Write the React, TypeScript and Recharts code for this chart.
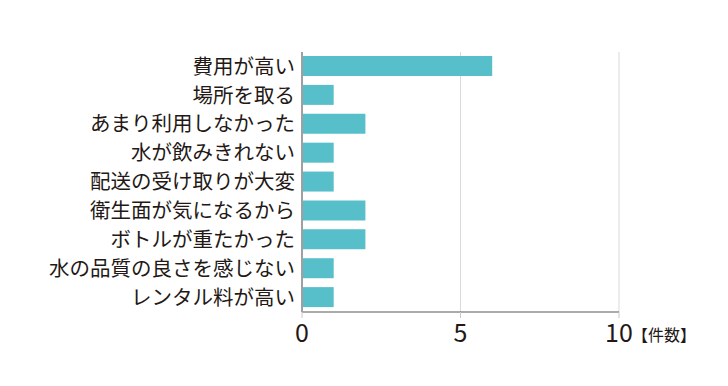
import { BarChart, Bar, XAxis, YAxis, CartesianGrid } from 'recharts';

const categories = [
  '費用が高い',
  '場所を取る',
  'あまり利用しなかった',
  '水が飲みきれない',
  '配送の受け取りが大変',
  '衛生面が気になるから',
  'ボトルが重たかった',
  '水の品質の良さを感じない',
  'レンタル料が高い',
];
const counts = [6, 1, 2, 1, 1, 2, 2, 1, 1];
const xTicks = [0, 5, 10];
const unitLabel = '【件数】';

const data = categories.map((name, i) => ({ name, count: counts[i] }));

const FONT = '"Noto Sans CJK JP", "Noto Sans", sans-serif';
const TEXT = '#231815';

// 最後の目盛り(10)の横に単位を付ける
function XTick(props: any) {
  const { x, y, payload } = props;
  const last = payload.value === xTicks[xTicks.length - 1];
  return (
    <g>
      <text x={x} y={y} dy={22} textAnchor="middle" fill={TEXT} fontSize={25} fontFamily={FONT}>
        {payload.value}
      </text>
      {last && (
        <text x={x + 13} y={y} dy={21} textAnchor="start" fill={TEXT} fontSize={16} fontFamily={FONT}>
          {unitLabel}
        </text>
      )}
    </g>
  );
}

export default function App() {
  return (
    <div style={{ position: 'absolute', left: 0, top: 0, width: 728, height: 386, background: '#fff' }}>
      <BarChart
        width={728}
        height={386}
        data={data}
        layout="vertical"
        margin={{ top: 52, right: 109, left: 0, bottom: 34 }}
        barSize={20}
      >
        <CartesianGrid horizontal={false} stroke="#d9d9d9" strokeWidth={1} />
        <XAxis
          type="number"
          domain={[0, 10]}
          ticks={xTicks}
          height={40}
          stroke="#595757"
          tickLine={{ stroke: '#c8c8c8' }}
          tickSize={6}
          tick={<XTick />}
          interval={0}
        />
        <YAxis
          type="category"
          dataKey="name"
          width={302}
          stroke="#a0a0a0"
          strokeWidth={2}
          tickLine={false}
          tickMargin={1}
          interval={0}
          tick={{ fill: TEXT, fontSize: 20.5, fontFamily: FONT }}
        />
        <Bar dataKey="count" fill="#57bfc9" isAnimationActive={false} />
      </BarChart>
    </div>
  );
}
